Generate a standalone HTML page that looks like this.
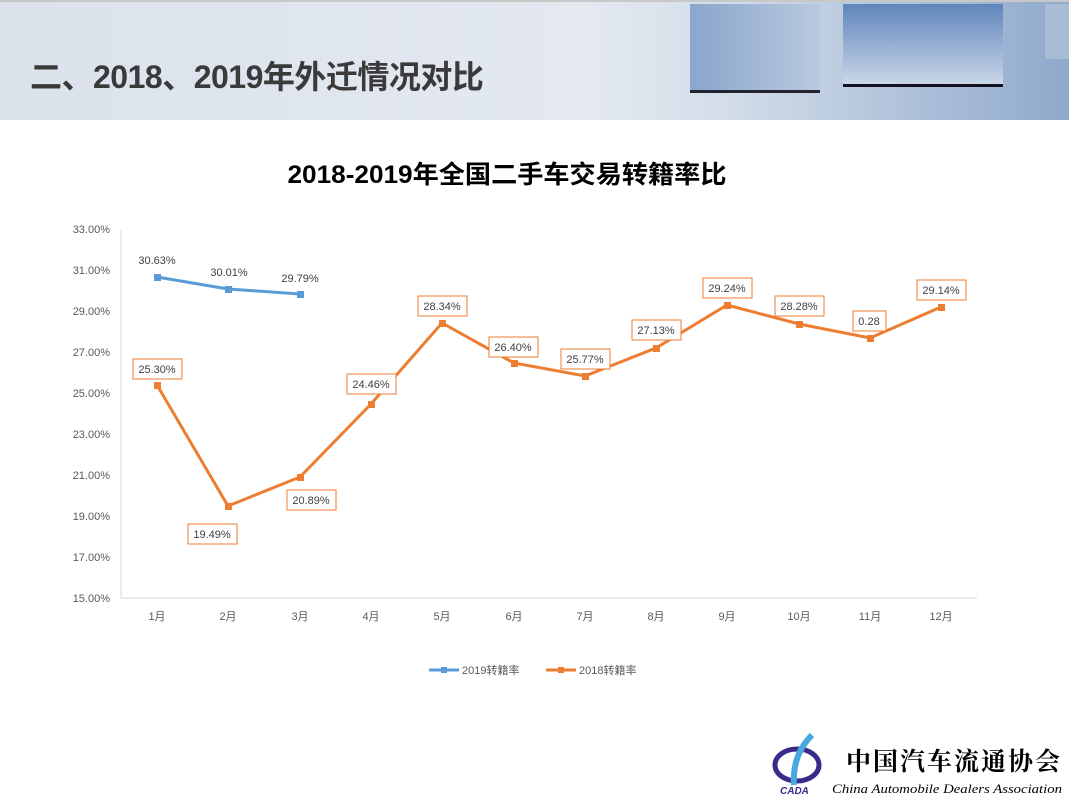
<!DOCTYPE html>
<html><head><meta charset="utf-8"><style>
body{margin:0;width:1069px;height:805px;background:#fff;overflow:hidden;font-family:"Liberation Sans","Noto Sans CJK SC",sans-serif;position:relative}
.hdr{position:absolute;left:0;top:0;width:1069px;height:118px;background:linear-gradient(90deg,#dbe2ec 0%,#e4e9f0 55%,#d3dde9 68%,#8fa9cc 100%);border-top:2px solid #c8c8c8}
.t{position:absolute;left:30px;top:50px;font-size:32px;font-weight:bold;color:#3a3a3a;letter-spacing:-0.5px}
</style></head><body>
<div class="hdr">
<div style="position:absolute;left:690px;top:2px;width:130px;height:86px;background:linear-gradient(90deg,#8aa6cc,#b9c9df);border-bottom:3px solid #223"></div>
<div style="position:absolute;left:843px;top:2px;width:160px;height:80px;background:linear-gradient(180deg,#5f85bb,#c9d6e8);border-bottom:3px solid #112"></div>
<div style="position:absolute;left:1045px;top:2px;width:24px;height:55px;background:#a9bcd6"></div>
<div class="t">二、2018、2019年外迁情况对比</div>
</div>
<svg width="1069" height="805" style="position:absolute;left:0;top:0" font-family="Liberation Sans, Noto Sans CJK SC, sans-serif">
<text x="507" y="183" text-anchor="middle" font-size="25" font-weight="bold" fill="#000" textLength="439" lengthAdjust="spacingAndGlyphs">2018-2019年全国二手车交易转籍率比</text>
<g font-size="11" fill="#595959" text-anchor="end">
<text x="110" y="233">33.00%</text><text x="110" y="274">31.00%</text><text x="110" y="315">29.00%</text><text x="110" y="356">27.00%</text><text x="110" y="397">25.00%</text><text x="110" y="438">23.00%</text><text x="110" y="479">21.00%</text><text x="110" y="520">19.00%</text><text x="110" y="561">17.00%</text><text x="110" y="602">15.00%</text>
</g>
<line x1="121" y1="229" x2="121" y2="598" stroke="#d9d9d9"/>
<line x1="121" y1="598" x2="977" y2="598" stroke="#d9d9d9"/>
<g font-size="11" fill="#595959" text-anchor="middle">
<text x="157" y="620">1月</text><text x="228" y="620">2月</text><text x="300" y="620">3月</text><text x="371" y="620">4月</text><text x="442" y="620">5月</text><text x="514" y="620">6月</text><text x="585" y="620">7月</text><text x="656" y="620">8月</text><text x="727" y="620">9月</text><text x="799" y="620">10月</text><text x="870" y="620">11月</text><text x="941" y="620">12月</text>
</g>
<polyline fill="none" stroke="#ed7d31" stroke-width="3" points="157,385 228,506 300,477 371,404 442,323 514,363 585,376 656,348 727,305 799,324 870,338 941,307"/>
<g fill="#ed7d31"><rect x="154" y="382" width="7" height="7"/><rect x="225" y="503" width="7" height="7"/><rect x="297" y="474" width="7" height="7"/><rect x="368" y="401" width="7" height="7"/><rect x="439" y="320" width="7" height="7"/><rect x="511" y="360" width="7" height="7"/><rect x="582" y="373" width="7" height="7"/><rect x="653" y="345" width="7" height="7"/><rect x="724" y="302" width="7" height="7"/><rect x="796" y="321" width="7" height="7"/><rect x="867" y="335" width="7" height="7"/><rect x="938" y="304" width="7" height="7"/></g>
<polyline fill="none" stroke="#5b9bd5" stroke-width="3" points="157,277 228,289 300,294"/>
<g fill="#5b9bd5"><rect x="154" y="274" width="7" height="7"/><rect x="225" y="286" width="7" height="7"/><rect x="297" y="291" width="7" height="7"/></g>
<g font-size="11" fill="#404040" text-anchor="middle">
<text x="157" y="264">30.63%</text><text x="229" y="276">30.01%</text><text x="300" y="282">29.79%</text>
</g>
<g fill="#fff" stroke="#ed7d31" stroke-width="1">
<rect x="133" y="359" width="49" height="20"/><rect x="188" y="524" width="49" height="20"/><rect x="287" y="490" width="49" height="20"/><rect x="347" y="374" width="49" height="20"/><rect x="418" y="296" width="49" height="20"/><rect x="489" y="337" width="49" height="20"/><rect x="561" y="349" width="49" height="20"/><rect x="632" y="320" width="49" height="20"/><rect x="703" y="278" width="49" height="20"/><rect x="775" y="296" width="49" height="20"/><rect x="853" y="311" width="33" height="20"/><rect x="917" y="280" width="49" height="20"/>
</g>
<g font-size="11" fill="#404040" text-anchor="middle">
<text x="157" y="373">25.30%</text><text x="212" y="538">19.49%</text><text x="311" y="504">20.89%</text><text x="371" y="388">24.46%</text><text x="442" y="310">28.34%</text><text x="513" y="351">26.40%</text><text x="585" y="363">25.77%</text><text x="656" y="334">27.13%</text><text x="727" y="292">29.24%</text><text x="799" y="310">28.28%</text><text x="869" y="325">0.28</text><text x="941" y="294">29.14%</text>
</g>
<line x1="429" y1="670" x2="459" y2="670" stroke="#5b9bd5" stroke-width="3"/><rect x="441" y="667" width="6" height="6" fill="#5b9bd5"/>
<text x="462" y="674" font-size="11" fill="#595959">2019转籍率</text>
<line x1="546" y1="670" x2="576" y2="670" stroke="#ed7d31" stroke-width="3"/><rect x="558" y="667" width="6" height="6" fill="#ed7d31"/>
<text x="579" y="674" font-size="11" fill="#595959">2018转籍率</text>
<ellipse cx="797" cy="765" rx="22" ry="16" fill="none" stroke="#3a2a8a" stroke-width="5"/>
<path d="M812 735 q-20 20 -18 50" stroke="#4aa8e0" stroke-width="6" fill="none"/>
<text x="780" y="794" font-size="10" font-weight="bold" font-style="italic" fill="#3a2a8a">CADA</text>
<text x="846" y="770" font-size="25" fill="#000" font-weight="bold" font-family="Noto Serif CJK SC, serif" letter-spacing="2">中国汽车流通协会</text>
<text x="832" y="793" font-size="13" font-style="italic" fill="#000" font-family="Liberation Serif, serif" textLength="230" lengthAdjust="spacingAndGlyphs">China Automobile Dealers Association</text>
</svg>
</body></html>
